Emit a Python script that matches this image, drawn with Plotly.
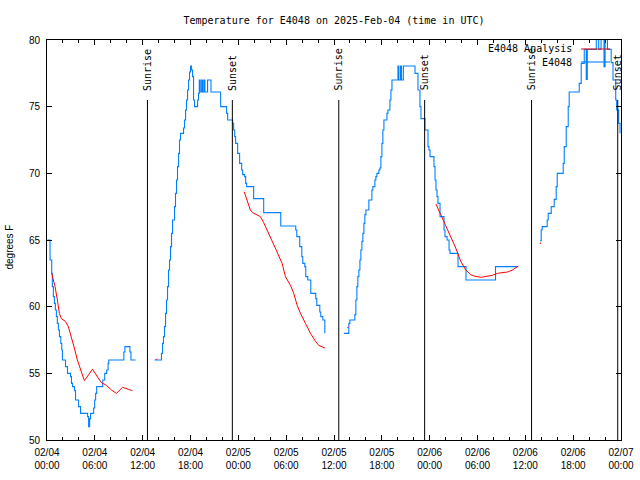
import datetime as dt
import plotly.graph_objects as go

BASE = dt.datetime(2025, 2, 4, 0, 0)

# ---- observed temperature (E4048), hours since 2025-02-04 00:00 UTC; None = gap
obs_hours = [
    0.04, 0.38, 0.59, 0.67, 0.80, 0.93, 1.05, 1.18, 1.30, 1.43, 1.56, 1.73, 1.85, 1.94, 2.32, 2.57,
    2.95, 3.07, 3.20, 3.45, 3.58, 3.96, 4.21, 5.09, 5.22, 5.35, 5.47, 5.85, 5.98, 6.10, 6.23, 6.99,
    7.24, 7.49, 7.66, 7.75, 9.64, 9.77, 10.40, 10.53, 11.12, None,
    13.48, 14.36, 14.49, 14.61, 14.74, 14.87, 14.99, 15.12, 15.24, 15.37, 15.49, 15.62, 15.75, 16.00,
    16.12, 16.25, 16.37, 16.50, 16.62, 16.75, 17.13, 17.25, 17.38, 17.50, 17.63, 17.76, 17.88, 18.01,
    18.13, 18.26, 18.38, 18.51, 18.89, 19.01, 19.10, 19.22, 19.40, 19.52, 19.69, 19.81, 20.14, 20.57,
    21.78, 22.53, 22.66, 23.28, 23.41, 23.54, 23.66, 23.91, 24.16, 24.42, 24.54, 24.79, 24.92,
    25.04, 25.92, 27.18, 29.32, 31.20, 31.33, 31.70, 31.96, 32.08, 32.33, 32.46, 32.71, 33.09, 33.71,
    33.84, 34.22, 34.34, 34.60, 34.85, None,
    37.23, 37.86, 37.99, 38.61, 38.74, 38.87, 38.99, 39.12, 39.25, 39.37, 39.50, 39.62, 39.75, 39.87,
    40.00, 40.37, 40.75, 40.88, 41.13, 41.25, 41.38, 41.63, 41.75, 41.88, 42.01, 42.13, 42.26, 42.64,
    42.76, 43.01, 43.14, 43.27, 44.02, 44.14, 44.35, 44.47, 44.70, 46.16, 46.53, 46.78, 46.91,
    47.41, 47.79, 47.91, 48.04, 48.54, 48.67, 48.79, 48.92, 49.04, 49.30, 49.80, 49.92, 50.18, 50.43,
    50.55, 51.56, 52.56, 56.26, 59.10, None,
    61.86, 61.99, 62.11, 62.74, 62.87, 63.25, 63.62, 63.87, 64.00, 64.75, 64.88, 65.13, 65.38, 65.50,
    66.76, 67.01, 67.39, 67.64, 67.77, 68.90, 69.20, 69.50, 69.87, 70.00, 70.30, 70.60, 70.77, 71.00,
    71.34, 71.46, 71.71, 71.88,
]
obs_temp = [
    65.0, 63.5, 62.5, 61.5, 60.75, 60.25, 59.75, 59.25, 58.75, 58.25, 57.75, 57.25, 56.75, 56.0, 55.5, 55.0,
    54.75, 54.25, 54.0, 53.7, 53.0, 52.5, 52.0, 51.75, 51.0, 51.6, 52.0, 52.4, 53.0, 53.5, 54.0, 54.5,
    55.0, 55.25, 55.75, 56.0, 56.6, 57.0, 56.6, 56.0, 56.0, None,
    56.0, 56.5, 57.25, 57.75, 58.5, 59.5, 60.5, 61.5, 62.75, 63.5, 64.5, 65.5, 66.5, 67.5,
    68.5, 69.5, 70.5, 71.5, 72.5, 73.0, 73.4, 74.0, 74.75, 75.5, 76.25, 77.0, 77.6, 78.05,
    77.75, 77.25, 75.5, 75.0, 75.5, 76.0, 77.0, 76.1, 77.0, 76.1, 77.0, 76.1, 77.0, 76.1,
    75.0, 74.5, 74.0, 73.75, 73.25, 72.75, 72.25, 71.5, 70.75, 70.25, 69.9, 69.75, 69.25,
    69.0, 68.1, 67.05, 66.05, 65.75, 65.25, 64.5, 63.75, 63.25, 63.0, 62.25, 62.0, 61.0, 60.6,
    60.1, 59.6, 59.25, 59.0, 58.0, None,
    58.0, 58.75, 59.0, 59.4, 60.5, 61.5, 62.25, 62.75, 63.5, 64.25, 64.9, 65.5, 66.25, 66.9,
    67.25, 68.0, 68.75, 69.0, 69.5, 69.75, 70.0, 70.25, 70.4, 71.25, 72.25, 73.25, 74.0, 74.5,
    74.75, 75.5, 76.25, 77.0, 78.05, 77.0, 78.05, 77.0, 78.05, 77.5, 76.25, 75.0, 74.1,
    73.25, 72.0, 71.75, 71.25, 70.5, 69.5, 68.75, 68.25, 67.75, 66.75, 65.75, 65.25, 65.0, 64.25,
    64.0, 63.0, 62.0, 63.0, 63.0, None,
    64.95, 65.75, 66.0, 66.5, 67.0, 67.5, 68.05, 69.0, 70.0, 70.75, 72.0, 73.5, 75.0, 76.1,
    76.75, 78.25, 79.3, 77.05, 79.3, 80.5, 79.3, 80.5, 78.0, 80.5, 79.3, 79.3, 78.3, 77.0,
    75.5, 74.75, 73.75, 73.0,
]

# ---- analysis temperature (E4048 Analysis)
ana_hours = [
    0.59, 0.80, 1.01, 1.30, 1.55, 1.80, 2.30, 2.68, 3.06, 3.43, 3.81, 4.19, 4.57, 4.69, 5.70, 6.32,
    6.83, 7.46, 8.08, 8.71, 9.47, 10.22, 10.72, None,
    13.65, 13.80, None,
    24.75, 25.09, 25.51, 25.80, 26.77, 27.18, 27.81, 28.44, 28.86, 29.49, 29.91, 30.54, 30.95, 31.38,
    31.79, 32.42, 33.05, 33.68, 34.09, 34.85, None,
    37.70, 37.80, None,
    48.79, 49.38, 50.01, 50.64, 51.27, 51.90, 52.53, 53.15, 53.57, 54.41, 55.04, 55.88, 56.50, 57.76,
    58.39, 59.10, None,
    61.85, 61.90,
]
ana_temp = [
    62.5, 62.0, 61.5, 60.5, 59.5, 59.1, 58.9, 58.5, 57.75, 56.9, 56.0, 55.25, 54.55, 54.45, 55.3, 54.75,
    54.3, 54.1, 53.75, 53.5, 53.95, 53.8, 53.7, None,
    56.0, 56.1, None,
    68.6, 68.0, 67.25, 67.05, 66.75, 66.3, 65.5, 64.75, 64.1, 63.25, 62.25, 61.6, 61.0, 60.1,
    59.5, 58.75, 58.0, 57.4, 57.1, 56.9, None,
    58.4, 58.5, None,
    67.7, 66.9, 66.0, 65.25, 64.4, 63.4, 62.75, 62.4, 62.3, 62.2, 62.25, 62.35, 62.5, 62.6,
    62.75, 63.05, None,
    64.7, 64.8,
]

# ---- sunrise / sunset markers
sun_hours = [12.60, 23.25, 36.60, 47.37, 60.78, 71.59]
sun_labels = ["Sunrise", "Sunset", "Sunrise", "Sunset", "Sunrise", "Sunset"]
sun_line_top = 75.5

y_ticks = [50, 55, 60, 65, 70, 75, 80]


def to_time(hours):
    return [None if h is None else BASE + dt.timedelta(hours=h) for h in hours]


MONO = "DejaVu Sans Mono"
SANS = "Liberation Sans, Arial"

fig = go.Figure()
fig.add_trace(go.Scatter(x=to_time(obs_hours), y=obs_temp, mode="lines",
                         line=dict(color="#0080ff", width=1.1, shape="hv"),
                         connectgaps=False, showlegend=False, name="E4048"))
fig.add_trace(go.Scatter(x=to_time(ana_hours), y=ana_temp, mode="lines",
                         line=dict(color="#ff0000", width=1),
                         connectgaps=False, showlegend=False, name="E4048 Analysis"))

for h, lab in zip(sun_hours, sun_labels):
    t = BASE + dt.timedelta(hours=h)
    fig.add_shape(type="line", x0=t, x1=t, y0=50, y1=sun_line_top, xref="x", yref="y",
                  line=dict(color="black", width=1))
    fig.add_annotation(x=t, y=sun_line_top + 0.55, xref="x", yref="y", text=lab,
                       textangle=-90, showarrow=False, xanchor="center", yanchor="bottom",
                       font=dict(family=MONO, size=10, color="black"))

# legend (gnuplot style: text then sample, top right)
leg = [("E4048 Analysis", "#ff0000", 1, 0.9775), ("E4048", "#0080ff", 1.1, 0.945)]
for txt, col, w, yy in leg:
    fig.add_annotation(x=0.9180, y=yy, xref="paper", yref="paper", text=txt, showarrow=False,
                       xanchor="right", yanchor="middle", font=dict(family=MONO, size=10, color="black"))
    fig.add_shape(type="line", x0=0.9303, x1=0.9808, y0=yy, y1=yy, xref="paper", yref="paper",
                  line=dict(color=col, width=w))

fig.add_annotation(x=-0.067, y=0.4825, xref="paper", yref="paper", text="degrees F",
                   textangle=-90, showarrow=False, xanchor="center", yanchor="middle",
                   font=dict(family=SANS, size=10, color="black"))

fig.update_layout(
    width=640, height=480,
    margin=dict(l=47, r=19, t=40, b=40, autoexpand=False),
    paper_bgcolor="white", plot_bgcolor="white",
    title=dict(text="Temperature for E4048 on 2025-Feb-04 (time in UTC)", x=0.5, xref="paper",
               y=1 - 20 / 480, yref="container", xanchor="center", yanchor="middle",
               font=dict(family=MONO, size=10, color="black")),
    showlegend=False,
)
fig.update_xaxes(
    type="date", automargin=False,
    range=[BASE, BASE + dt.timedelta(hours=72)],
    tick0=BASE, dtick=6 * 3600 * 1000,
    tickformat="%m/%d<br>%H:%M",
    ticks="inside", ticklen=5, tickcolor="black", tickwidth=1,
    ticklabelstandoff=3,
    minor=dict(dtick=2 * 3600 * 1000, ticks="inside", ticklen=3, tickcolor="black", showgrid=False),
    showline=True, linecolor="black", linewidth=1, mirror="allticks",
    showgrid=False, zeroline=False,
    tickfont=dict(family=SANS, size=10, color="black"),
)
fig.update_yaxes(
    automargin=False,
    range=[50, 80], tickvals=y_ticks,
    ticks="inside", ticklen=5, tickcolor="black", tickwidth=1,
    ticklabelstandoff=4,
    showline=True, linecolor="black", linewidth=1, mirror="allticks",
    showgrid=False, zeroline=False,
    tickfont=dict(family=SANS, size=10, color="black"),
)

fig.write_html("out.html")
